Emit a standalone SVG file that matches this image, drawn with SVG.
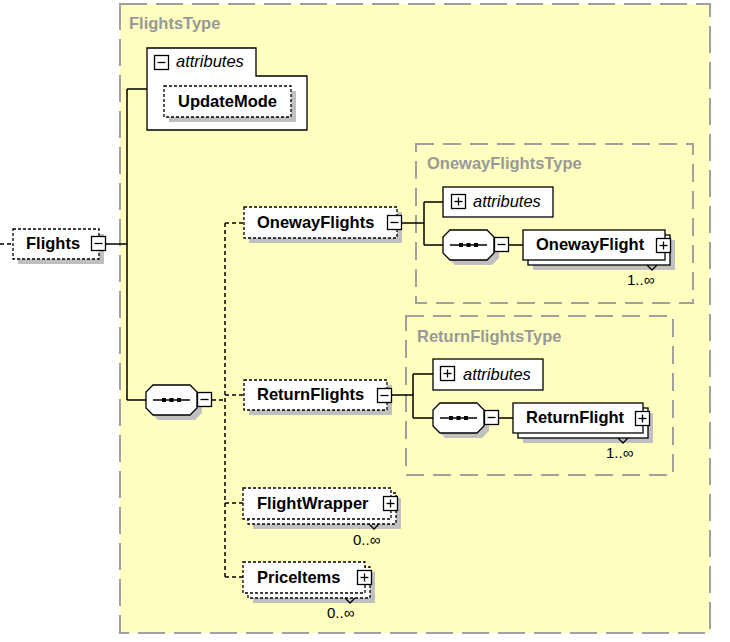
<svg xmlns="http://www.w3.org/2000/svg" width="730" height="642" viewBox="0 0 730 642">
<style>
.frame{fill:#ffffc0;stroke:#a0a0a0;stroke-width:2;stroke-dasharray:27 9}
.iframe{fill:none;stroke:#a0a0a0;stroke-width:2;stroke-dasharray:18 9}
.tl{font-family:"Liberation Sans",Arial,sans-serif;font-weight:bold;font-size:16.5px;fill:#999}
.nm{font-family:"Liberation Sans",Arial,sans-serif;font-weight:bold;font-size:16.5px;fill:#000}
.at{font-family:"Liberation Sans",Arial,sans-serif;font-style:italic;font-size:16.5px;fill:#000}
.mul{font-family:"Liberation Sans",Arial,sans-serif;font-size:15px;fill:#000}
.box{fill:#fff;stroke:#000;stroke-width:1.3}
.dbox{fill:#fff;stroke:#000;stroke-width:1.3;stroke-dasharray:3 2}
.sh{fill:#c0c0c0;stroke:none}
.ln{fill:none;stroke:#000;stroke-width:1.5}
.dl{fill:none;stroke:#000;stroke-width:1.5;stroke-dasharray:4 3}
.mk{fill:none;stroke:#000;stroke-width:1.3}
</style>
<defs>
<polygon id="oct" points="7,0 44,0 51,7 51,23 44,30 7,30 0,23 0,7"/>
<g id="minus"><rect x="0.5" y="0.5" width="14" height="14" class="box"/><line x1="3.5" y1="7.5" x2="11.5" y2="7.5" class="mk"/></g>
<g id="plus"><rect x="0.5" y="0.5" width="14" height="14" class="box"/><line x1="3.5" y1="7.5" x2="11.5" y2="7.5" class="mk"/><line x1="7.5" y1="3.5" x2="7.5" y2="11.5" class="mk"/></g>
<g id="seq">
<use href="#oct" x="5" y="5" class="sh"/>
<use href="#oct" class="box"/>
<line x1="7" y1="15" x2="44" y2="15" class="mk"/>
<rect x="16" y="13" width="4" height="4" fill="#000"/>
<rect x="23.5" y="13" width="4" height="4" fill="#000"/>
<rect x="31" y="13" width="4" height="4" fill="#000"/>
<use href="#minus" x="51" y="7"/>
</g>
</defs>
<rect width="730" height="642" fill="#fff"/>

<g id="FlightsType">
<rect class="frame" x="120" y="4" width="590" height="629"/>
<text class="tl" x="129" y="29">FlightsType</text>
</g>
<g id="OnewayFlightsType">
<rect class="iframe" x="416" y="144" width="277" height="159"/>
<text class="tl" x="427" y="169">OnewayFlightsType</text>
</g>
<g id="ReturnFlightsType">
<rect class="iframe" x="406" y="316" width="267" height="159"/>
<text class="tl" x="417" y="342">ReturnFlightsType</text>
</g>

<g id="connectors">
<path class="ln" d="M106,244 H127 M127,89 V400 M127,89 H147 M127,400 H146"/>
<path class="ln" d="M402,223 H424 M424,202 V245 M424,202 H443 M424,245 H443 M509,245 H523"/>
<path class="ln" d="M392,395 H413 M413,374 V418 M413,374 H433 M413,418 H433 M499,418 H513"/>
<path class="dl" d="M0,244 H13 M212,400 H225 M225,223 V577 M225,223 H244 M225,395 H244 M225,503 H243 M225,577 H243"/>
</g>

<g id="Flights">
<rect class="sh" x="18" y="234" width="86" height="30"/>
<rect class="dbox" x="13" y="229" width="86" height="30"/>
<text class="nm" x="26" y="249">Flights</text>
<use href="#minus" x="91" y="236"/>
</g>

<g id="attributes-flights">
<path class="box" d="M147,48 H256 V76 H307 V130 H147 Z"/>
<use href="#minus" x="154" y="55"/>
<text class="at" x="176" y="67">attributes</text>
</g>

<g id="UpdateMode">
<rect class="sh" x="169" y="91" width="127" height="31"/>
<rect class="dbox" x="164" y="86" width="127" height="31"/>
<text class="nm" x="178" y="107">UpdateMode</text>
</g>

<g id="sequence-main"><use href="#seq" x="146" y="385"/></g>

<g id="OnewayFlights">
<rect class="sh" x="249" y="212" width="153" height="31"/>
<rect class="dbox" x="244" y="207" width="153" height="31"/>
<text class="nm" x="257" y="228">OnewayFlights</text>
<use href="#minus" x="387" y="215"/>
</g>

<g id="attributes-oneway">
<rect class="box" x="443" y="187" width="110" height="30"/>
<use href="#plus" x="451" y="194"/>
<text class="at" x="473" y="207">attributes</text>
</g>

<g id="sequence-oneway"><use href="#seq" x="443" y="230"/></g>

<g id="OnewayFlight">
<rect class="sh" x="533" y="240" width="142" height="30"/>
<rect class="box" x="528" y="235" width="142" height="30"/>
<rect class="box" x="523" y="230" width="142" height="30"/>
<polyline class="mk" points="647,265 652,270 657,265"/>
<text class="nm" x="536" y="250">OnewayFlight</text>
<use href="#plus" x="656" y="238"/>
<text class="mul" x="627" y="285">1..∞</text>
</g>

<g id="ReturnFlights">
<rect class="sh" x="249" y="385" width="143" height="30"/>
<rect class="dbox" x="244" y="380" width="143" height="30"/>
<text class="nm" x="257" y="400">ReturnFlights</text>
<use href="#minus" x="377" y="388"/>
</g>

<g id="attributes-return">
<rect class="box" x="433" y="359" width="110" height="31"/>
<use href="#plus" x="440" y="366"/>
<text class="at" x="463" y="380">attributes</text>
</g>

<g id="sequence-return"><use href="#seq" x="433" y="403"/></g>

<g id="ReturnFlight">
<rect class="sh" x="523" y="413" width="130" height="30"/>
<rect class="box" x="518" y="408" width="130" height="30"/>
<rect class="box" x="513" y="403" width="130" height="30"/>
<polyline class="mk" points="618,438 623,443 628,438"/>
<text class="nm" x="526" y="423">ReturnFlight</text>
<use href="#plus" x="635" y="411"/>
<text class="mul" x="606" y="458">1..∞</text>
</g>

<g id="FlightWrapper">
<rect class="sh" x="253" y="498" width="148" height="31"/>
<rect class="dbox" x="248" y="493" width="148" height="31"/>
<rect class="dbox" x="243" y="488" width="148" height="31"/>
<polyline class="mk" points="369,524 374,529 379,524"/>
<text class="nm" x="257" y="509">FlightWrapper</text>
<use href="#plus" x="383" y="496"/>
<text class="mul" x="353" y="545">0..∞</text>
</g>

<g id="PriceItems">
<rect class="sh" x="253" y="572" width="122" height="31"/>
<rect class="dbox" x="248" y="567" width="122" height="31"/>
<rect class="dbox" x="243" y="562" width="122" height="31"/>
<polyline class="mk" points="345,598 350,603 355,598"/>
<text class="nm" x="257" y="583">PriceItems</text>
<use href="#plus" x="357" y="570"/>
<text class="mul" x="327" y="618">0..∞</text>
</g>
</svg>
